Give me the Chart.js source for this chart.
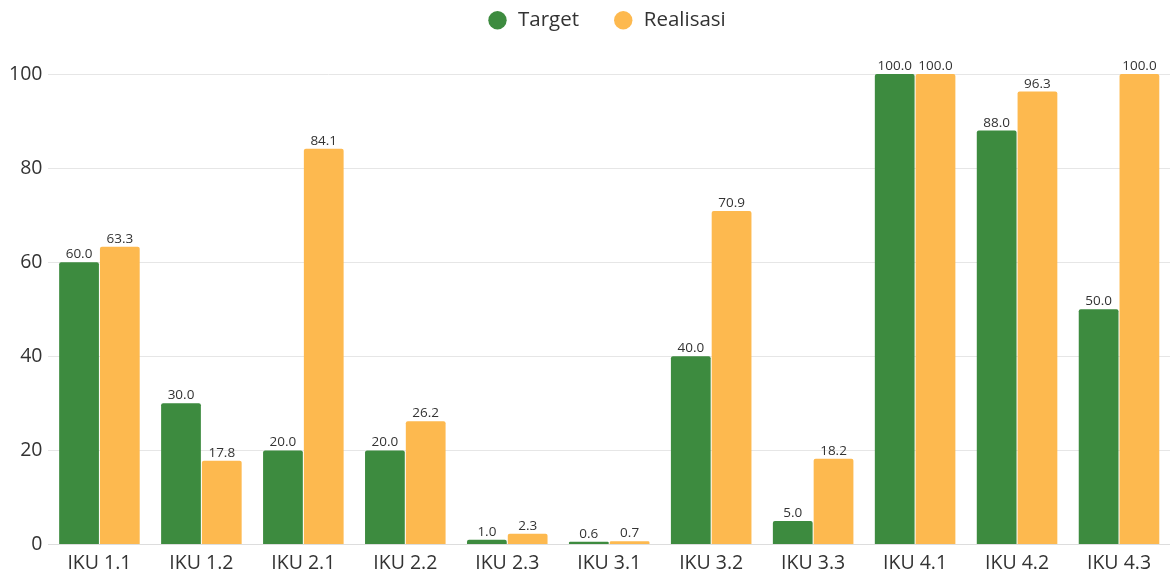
<!DOCTYPE html>
<html><head><meta charset="utf-8">
<script src="https://cdn.jsdelivr.net/npm/chart.js@4"></script>
<style>html,body{margin:0;padding:0;background:#fff}#w{width:1170px;height:572px}</style>
</head><body><div id="w"><canvas id="c"></canvas></div>
<script>
const categories = ["IKU 1.1","IKU 1.2","IKU 2.1","IKU 2.2","IKU 2.3","IKU 3.1","IKU 3.2","IKU 3.3","IKU 4.1","IKU 4.2","IKU 4.3"];
const targetValues = [60.0,30.0,20.0,20.0,1.0,0.6,40.0,5.0,100.0,88.0,50.0];
const realisasiValues = [63.3,17.8,84.1,26.2,2.3,0.7,70.9,18.2,100.0,96.3,100.0];
const yTicks = [0,20,40,60,80,100];

const valueLabels = {
  id:'valueLabels',
  afterDatasetsDraw(chart){
    const ctx = chart.ctx;
    ctx.save();
    ctx.font = '13.5px "Open Sans"';
    ctx.fillStyle = '#333';
    ctx.textAlign = 'center';
    ctx.textBaseline = 'bottom';
    chart.data.datasets.forEach((ds,i)=>{
      chart.getDatasetMeta(i).data.forEach((bar,j)=>{
        ctx.fillText(ds.data[j].toFixed(1), bar.x, bar.y-1);
      });
    });
    ctx.restore();
  }
};
const legendSpace = {
  id:'legendSpace',
  beforeInit(chart){
    const lg = chart.legend;
    const origFit = lg.fit;
    lg.fit = function(){ origFit.call(lg); lg.height = 74; };
    const origDraw = lg.draw;
    lg.draw = function(){ const c = chart.ctx; c.save(); c.translate(20,-24); origDraw.call(lg); c.restore(); };
  }
};

new Chart(document.getElementById('c'),{
  type:'bar',
  data:{labels:categories,datasets:[
    {label:'Target',data:targetValues,backgroundColor:'#3d8b3f',borderRadius:2,borderSkipped:'bottom'},
    {label:'Realisasi',data:realisasiValues,backgroundColor:'#fdb94f',borderRadius:2,borderSkipped:'bottom'}
  ]},
  options:{
    responsive:true,maintainAspectRatio:false,animation:false,
    layout:{padding:{left:3,right:0,top:0,bottom:-2}},
    datasets:{bar:{categoryPercentage:0.80,barPercentage:0.975}},
    plugins:{
      legend:{position:'top',labels:{usePointStyle:true,pointStyle:'circle',boxWidth:27,boxHeight:13,padding:34,color:'#333',font:{family:'"Open Sans"',size:20.5}}},
      tooltip:{enabled:false}
    },
    scales:{
      x:{grid:{display:false},border:{display:true,color:'#ddd'},ticks:{color:'#333',font:{family:'"Open Sans"',size:19.5,lineHeight:1},padding:1}},
      y:{min:0,max:100,afterBuildTicks(ax){ax.ticks=yTicks.map(v=>({value:v}));},
         grid:{color:'#e6e6e6',drawTicks:false},border:{display:false},
         ticks:{color:'#333',font:{family:'"Open Sans"',size:19.5},padding:6}}
    }
  },
  plugins:[valueLabels,legendSpace]
});
</script></body></html>
